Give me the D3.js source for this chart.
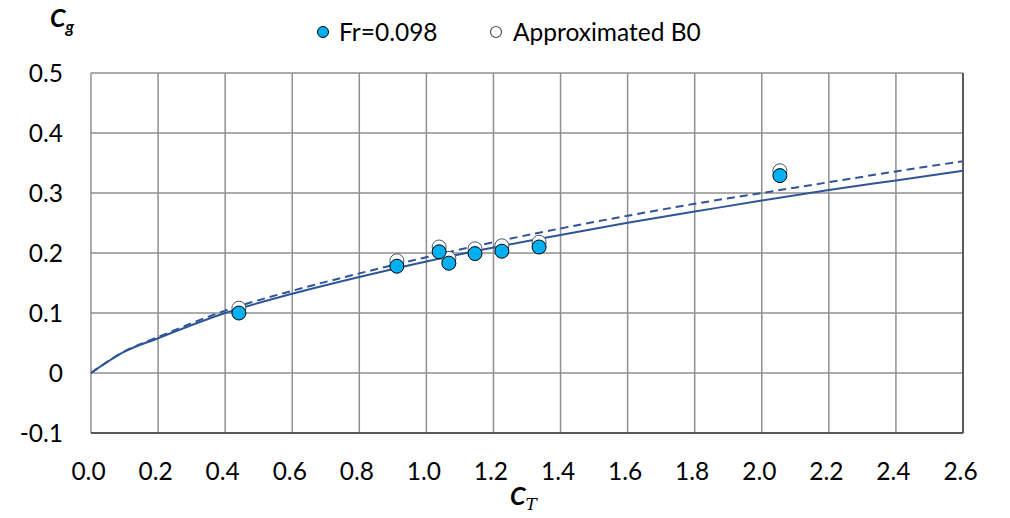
<!DOCTYPE html>
<html><head><meta charset="utf-8">
<script src="https://cdn.jsdelivr.net/npm/d3@7"></script>
<style>body{margin:0;background:#fff}svg{display:block}text{font-family:Lato,"Open Sans",sans-serif;fill:#000}</style>
</head><body><svg id="c" width="1010" height="518"></svg>
<script>
const ctFr = [0.441, 0.912, 1.038, 1.067, 1.145, 1.225, 1.336, 2.054];
const cgFr = [0.100, 0.178, 0.202, 0.183, 0.199, 0.203, 0.210, 0.329];
const ctB0 = [0.441, 0.912, 1.038, 1.067, 1.145, 1.225, 1.336, 2.054];
const cgB0 = [0.108, 0.187, 0.210, 0.191, 0.207, 0.212, 0.218, 0.337];
const ctLine = [0, 0.1, 0.2, 0.4, 0.6, 0.8, 1.0, 1.2, 1.4, 1.6, 1.8, 2.0, 2.2, 2.4, 2.6];
const cgSolid = [0, 0.0355, 0.058, 0.100, 0.132, 0.160, 0.186, 0.209, 0.230, 0.2505, 0.269, 0.2875, 0.305, 0.321, 0.337];
const cgDashed = [0, 0.036, 0.060, 0.104, 0.137, 0.166, 0.193, 0.218, 0.241, 0.262, 0.282, 0.300, 0.318, 0.336, 0.353];
const xTicks = [0,0.2,0.4,0.6,0.8,1.0,1.2,1.4,1.6,1.8,2.0,2.2,2.4,2.6];
const yTicks = [-0.1,0,0.1,0.2,0.3,0.4,0.5];
const legendLabels = ["Fr=0.098","Approximated B0"];

const svg = d3.select("#c");
const x = d3.scaleLinear().domain([0,2.6]).range([91,963]);
const y = d3.scaleLinear().domain([-0.1,0.5]).range([433,73]);

const grid = svg.append("g");
grid.selectAll("line.v").data(xTicks).join("line")
  .attr("x1",d=>x(d)).attr("x2",d=>x(d)).attr("y1",y(0.5)).attr("y2",y(-0.1))
  .attr("stroke","#8f8f8f").attr("stroke-width",1.5);
grid.selectAll("line.h").data(yTicks).join("line")
  .attr("y1",d=>y(d)).attr("y2",d=>y(d)).attr("x1",x(0)).attr("x2",x(2.6))
  .attr("stroke","#8f8f8f").attr("stroke-width",1.5);
svg.append("line").attr("x1",x(0)).attr("x2",x(2.6)).attr("y1",y(-0.1)).attr("y2",y(-0.1)).attr("stroke","#404040").attr("stroke-width",1.5);
svg.append("line").attr("x1",x(2.6)).attr("x2",x(2.6)).attr("y1",y(0.5)).attr("y2",y(-0.1)).attr("stroke","#404040").attr("stroke-width",1.5);

const fmt = d => d===0 ? "0" : d3.format(".1f")(d).replace("\u2212","-");
const xAxis = d3.axisBottom(x).tickValues(xTicks).tickFormat(d=>d3.format(".1f")(d)).tickSize(0).tickPadding(0);
const gx = svg.append("g").attr("transform",`translate(-3,${y(-0.1)+38})`).call(xAxis);
gx.select(".domain").remove();
gx.selectAll("text").attr("font-size",24.5).attr("font-family","Lato").attr("fill","#000").attr("dy","0.35em").attr("y",0);
const yAxis = d3.axisLeft(y).tickValues(yTicks).tickFormat(fmt).tickSize(0).tickPadding(0);
const gy = svg.append("g").attr("transform",`translate(63,0)`).call(yAxis);
gy.select(".domain").remove();
gy.selectAll("text").attr("font-size",24.5).attr("font-family","Lato").attr("fill","#000").attr("dy","0.35em");

const lineColor = "#2f5597";
const lg = d3.line().x((d,i)=>x(ctLine[i])).y(d=>y(d)).curve(d3.curveMonotoneX);
svg.append("path").attr("d",lg(cgSolid)).attr("fill","none").attr("stroke",lineColor).attr("stroke-width",2);
svg.append("path").attr("d",lg(cgDashed)).attr("fill","none").attr("stroke",lineColor).attr("stroke-width",2).attr("stroke-dasharray","8,5");

svg.append("g").selectAll("circle").data(cgB0).join("circle")
  .attr("cx",(d,i)=>x(ctB0[i])).attr("cy",d=>y(d)).attr("r",7)
  .attr("fill","#fff").attr("stroke","#44546a").attr("stroke-width",1);
svg.append("g").selectAll("circle").data(cgFr).join("circle")
  .attr("cx",(d,i)=>x(ctFr[i])).attr("cy",d=>y(d)).attr("r",7)
  .attr("fill","#00b0f0").attr("stroke","#000").attr("stroke-width",1);

svg.append("circle").attr("cx",323).attr("cy",32).attr("r",5.5).attr("fill","#00b0f0").attr("stroke","#000").attr("stroke-width",1);
svg.append("text").attr("x",339).attr("y",32).attr("dy","0.35em").attr("font-size",24.5).text(legendLabels[0]);
svg.append("circle").attr("cx",496).attr("cy",32).attr("r",5.5).attr("fill","#fff").attr("stroke","#44546a").attr("stroke-width",1.2);
svg.append("text").attr("x",513).attr("y",32).attr("dy","0.35em").attr("font-size",24.5).text(legendLabels[1]);

const yt = svg.append("text").attr("x",50).attr("y",27).attr("font-size",25).attr("font-weight","bold").attr("font-style","italic");
yt.append("tspan").text("C");
yt.append("tspan").attr("font-size",17).attr("dy",6).text("g");
const xt = svg.append("text").attr("x",510).attr("y",505).attr("font-size",25).attr("font-weight","bold").attr("font-style","italic");
xt.append("tspan").text("C");
xt.append("tspan").attr("font-size",17).attr("dy",5).attr("font-family","DejaVu Serif").attr("font-weight","normal").text("T");
</script></body></html>
